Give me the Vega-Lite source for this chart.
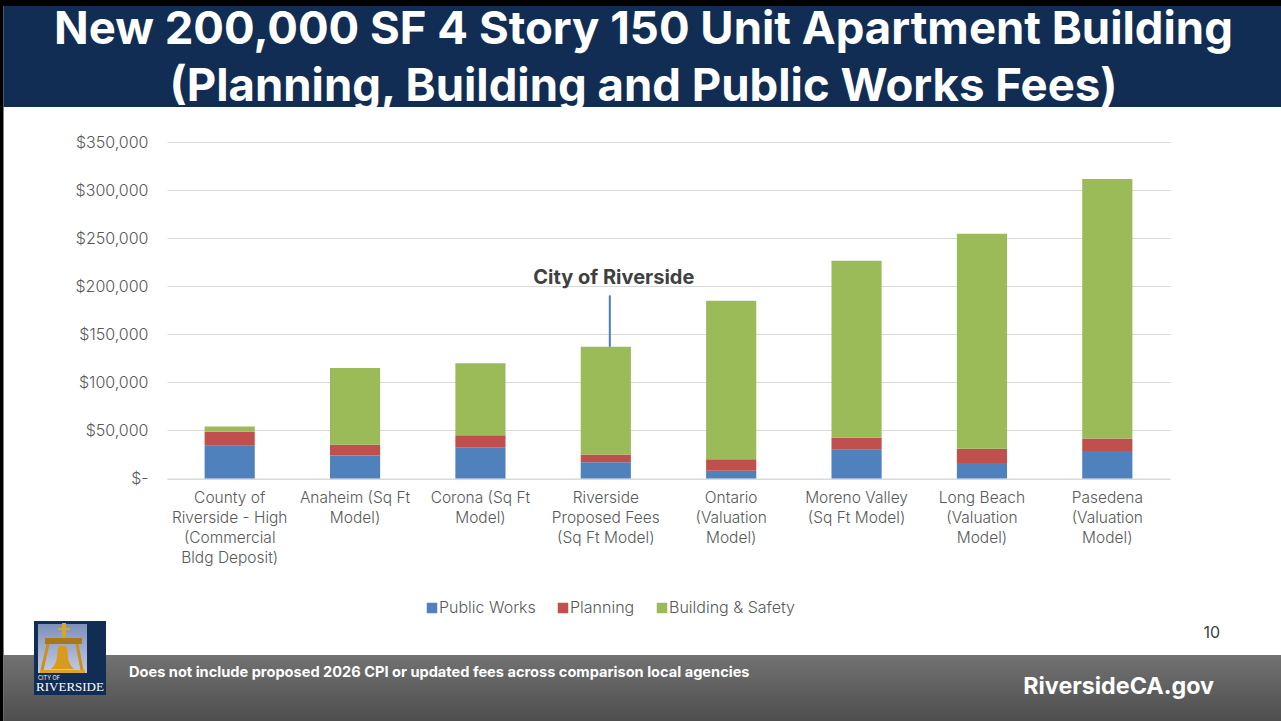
{
"$schema":"https://vega.github.io/schema/vega-lite/v6.json",
"width":1003,"height":336.5,
"autosize":{"type":"none"},
"padding":{"left":167,"top":142,"right":111,"bottom":242.5},
"background":"#ffffff",
"title":{"text":["New 200,000 SF 4 Story 150 Unit Apartment Building","(Planning, Building and Public Works Fees)"],"font":"Inter","fontSize":45.5,"fontWeight":"bold","color":"#ffffff","lineHeight":57,"anchor":"middle","dx":-25,"offset":-156,"baseline":"bottom","zindex":1,"limit":1270},
"config":{"view":{"stroke":null},"font":"Inter"},
"layer":[
{"data":{"values":[{}]},"mark":{"type":"rect","fill":"#000000","clip":false},"encoding":{"x":{"value":-167},"x2":{"value":1114},"y":{"value":-142},"y2":{"value":-136}}},
{"data":{"values":[{}]},"mark":{"type":"rect","fill":"#000000","clip":false},"encoding":{"x":{"value":-167},"x2":{"value":-163.5},"y":{"value":-142},"y2":{"value":579}}},
{"data":{"values":[{}]},"mark":{"type":"rect","fill":"#122d53","clip":false},"encoding":{"x":{"value":-163.5},"x2":{"value":1114},"y":{"value":-136},"y2":{"value":-35}}},
{"data":{"values":[{}]},"mark":{"type":"rect","clip":false,"fill":{"gradient":"linear","x1":0,"y1":0,"x2":0,"y2":1,"stops":[{"offset":0,"color":"#727272"},{"offset":1,"color":"#4e4e4e"}]}},"encoding":{"x":{"value":-163.5},"x2":{"value":1114},"y":{"value":513},"y2":{"value":579}}},
{"data":{"values":[
{"Agency":"County of|Riverside - High|(Commercial|Bldg Deposit)","Fee":"Public Works","Amount":34000},
{"Agency":"County of|Riverside - High|(Commercial|Bldg Deposit)","Fee":"Planning","Amount":14500},
{"Agency":"County of|Riverside - High|(Commercial|Bldg Deposit)","Fee":"Building & Safety","Amount":5500},
{"Agency":"Anaheim (Sq Ft|Model)","Fee":"Public Works","Amount":24000},
{"Agency":"Anaheim (Sq Ft|Model)","Fee":"Planning","Amount":11000},
{"Agency":"Anaheim (Sq Ft|Model)","Fee":"Building & Safety","Amount":80000},
{"Agency":"Corona (Sq Ft|Model)","Fee":"Public Works","Amount":32500},
{"Agency":"Corona (Sq Ft|Model)","Fee":"Planning","Amount":12500},
{"Agency":"Corona (Sq Ft|Model)","Fee":"Building & Safety","Amount":75000},
{"Agency":"Riverside|Proposed Fees|(Sq Ft Model)","Fee":"Public Works","Amount":17000},
{"Agency":"Riverside|Proposed Fees|(Sq Ft Model)","Fee":"Planning","Amount":8000},
{"Agency":"Riverside|Proposed Fees|(Sq Ft Model)","Fee":"Building & Safety","Amount":112000},
{"Agency":"Ontario|(Valuation|Model)","Fee":"Public Works","Amount":8000},
{"Agency":"Ontario|(Valuation|Model)","Fee":"Planning","Amount":12000},
{"Agency":"Ontario|(Valuation|Model)","Fee":"Building & Safety","Amount":165000},
{"Agency":"Moreno Valley|(Sq Ft Model)","Fee":"Public Works","Amount":30000},
{"Agency":"Moreno Valley|(Sq Ft Model)","Fee":"Planning","Amount":12500},
{"Agency":"Moreno Valley|(Sq Ft Model)","Fee":"Building & Safety","Amount":184000},
{"Agency":"Long Beach|(Valuation|Model)","Fee":"Public Works","Amount":16000},
{"Agency":"Long Beach|(Valuation|Model)","Fee":"Planning","Amount":15000},
{"Agency":"Long Beach|(Valuation|Model)","Fee":"Building & Safety","Amount":223500},
{"Agency":"Pasedena|(Valuation|Model)","Fee":"Public Works","Amount":28500},
{"Agency":"Pasedena|(Valuation|Model)","Fee":"Planning","Amount":13000},
{"Agency":"Pasedena|(Valuation|Model)","Fee":"Building & Safety","Amount":270000}
]},
"mark":{"type":"bar"},
"encoding":{
"x":{"field":"Agency","type":"nominal","sort":null,"scale":{"paddingInner":0.6,"paddingOuter":0.3},"axis":{"title":null,"labelAngle":0,"labelExpr":"split(datum.label,'|')","labelFont":"Inter","labelFontWeight":300,"labelFontSize":15.5,"labelColor":"#595959","labelLineHeight":20,"labelLimit":200,"labelPadding":12,"ticks":false,"domainColor":"#d9d9d9","grid":false,"labelBaseline":"top"}},
"y":{"field":"Amount","type":"quantitative","stack":"zero","scale":{"domain":[0,350000],"nice":false},"axis":{"title":null,"values":[0,50000,100000,150000,200000,250000,300000,350000],"labelExpr":"datum.value===0?'$-':format(datum.value,'$,.0f')","labelFont":"Inter","labelFontWeight":300,"labelFontSize":16,"labelColor":"#595959","labelPadding":19,"ticks":false,"domain":false,"grid":true,"gridColor":"#d9d9d9"}},
"color":{"field":"Fee","type":"nominal","scale":{"domain":["Public Works","Planning","Building & Safety"],"range":["#4f81bd","#c0504d","#9bbb59"]},"legend":{"title":null,"orient":"none","legendX":257,"legendY":458,"direction":"horizontal","columns":3,"symbolType":"square","symbolSize":110,"labelFont":"Inter","labelFontWeight":300,"labelFontSize":16,"labelColor":"#595959","labelOffset":-1,"columnPadding":19,"symbolStrokeWidth":0}}
}},
{"data":{"values":[{"Agency":"Riverside|Proposed Fees|(Sq Ft Model)","From":137000,"To":190500}]},"mark":{"type":"rule","color":"#4a7ebb","strokeWidth":2,"xOffset":4},"encoding":{"x":{"field":"Agency","type":"nominal","sort":null},"y":{"field":"From","type":"quantitative"},"y2":{"field":"To"}}},
{"data":{"values":[{"Agency":"Riverside|Proposed Fees|(Sq Ft Model)","At":209000,"Label":"City of Riverside"}]},"mark":{"type":"text","font":"Inter","fontWeight":"bold","fontSize":20,"color":"#404040","dx":8},"encoding":{"x":{"field":"Agency","type":"nominal","sort":null},"y":{"field":"At","type":"quantitative"},"text":{"field":"Label"}}},
{"data":{"values":[{"Label":"Does not include proposed 2026 CPI or updated fees across comparison local agencies"}]},"mark":{"type":"text","font":"Inter","fontWeight":"bold","fontSize":14.6,"color":"#ffffff","align":"left","clip":false},"encoding":{"x":{"value":-38},"y":{"value":531},"text":{"field":"Label"}}},
{"data":{"values":[{"Label":"RiversideCA.gov"}]},"mark":{"type":"text","font":"Inter","fontWeight":"bold","fontSize":23.3,"color":"#ffffff","align":"right","clip":false},"encoding":{"x":{"value":1047},"y":{"value":545},"text":{"field":"Label"}}},
{"data":{"values":[{"Label":"10"}]},"mark":{"type":"text","font":"Inter","fontSize":16,"fill":"#404040","align":"right","clip":false},"encoding":{"x":{"value":1053},"y":{"value":491},"text":{"field":"Label"}}},
{"data":{"values":[{}]},"mark":{"type":"rect","fill":"#122d53","clip":false},"encoding":{"x":{"value":-133},"x2":{"value":-61},"y":{"value":479},"y2":{"value":553}}},
{"data":{"values":[{}]},"mark":{"type":"rect","clip":false,"fill":{"gradient":"linear","x1":0,"y1":0,"x2":0,"y2":1,"stops":[{"offset":0,"color":"#7e90bb"},{"offset":1,"color":"#c3cbe0"}]}},"encoding":{"x":{"value":-129},"x2":{"value":-80},"y":{"value":482},"y2":{"value":531}}},
{"data":{"values":[{}]},"mark":{"type":"rule","color":"#c98f1f","strokeWidth":3,"clip":false},"encoding":{"x":{"value":-119},"x2":{"value":-125},"y":{"value":502},"y2":{"value":528}}},
{"data":{"values":[{}]},"mark":{"type":"rule","color":"#c98f1f","strokeWidth":3,"clip":false},"encoding":{"x":{"value":-90},"x2":{"value":-85},"y":{"value":502},"y2":{"value":528}}},
{"data":{"values":[{}]},"mark":{"type":"rect","fill":"#a8781c","clip":false},"encoding":{"x":{"value":-122},"x2":{"value":-85},"y":{"value":496},"y2":{"value":502}}},
{"data":{"values":[{}]},"mark":{"type":"rect","fill":"#d8a52a","clip":false},"encoding":{"x":{"value":-105},"x2":{"value":-101},"y":{"value":481},"y2":{"value":496}}},
{"data":{"values":[{}]},"mark":{"type":"rect","fill":"#d8a52a","clip":false},"encoding":{"x":{"value":-109},"x2":{"value":-97},"y":{"value":486},"y2":{"value":488}}},
{"data":{"values":[{}]},"mark":{"type":"rect","fill":"#d8a52a","clip":false},"encoding":{"x":{"value":-127},"x2":{"value":-82},"y":{"value":528},"y2":{"value":531}}},
{"data":{"values":[{}]},"mark":{"type":"point","filled":true,"fill":"#d99a1e","opacity":1,"clip":false,"size":530,"shape":"M-0.25,-1 L0.25,-1 Q0.45,-0.9 0.45,-0.2 Q0.5,0.6 1,1 L-1,1 Q-0.5,0.6 -0.45,-0.2 Q-0.45,-0.9 -0.25,-1 Z"},"encoding":{"x":{"value":-104.5},"y":{"value":515.5}}},
{"data":{"values":[{"Label":"RIVERSIDE"}]},"mark":{"type":"text","font":"Liberation Serif","fontSize":13,"color":"#ffffff","align":"center","clip":false},"encoding":{"x":{"value":-97},"y":{"value":545},"text":{"field":"Label"}}},
{"data":{"values":[{"Label":"CITY OF"}]},"mark":{"type":"text","font":"Inter","fontSize":5.5,"color":"#ffffff","align":"left","clip":false},"encoding":{"x":{"value":-129},"y":{"value":536},"text":{"field":"Label"}}}
],
"resolve":{"scale":{"color":"independent"}}
}
